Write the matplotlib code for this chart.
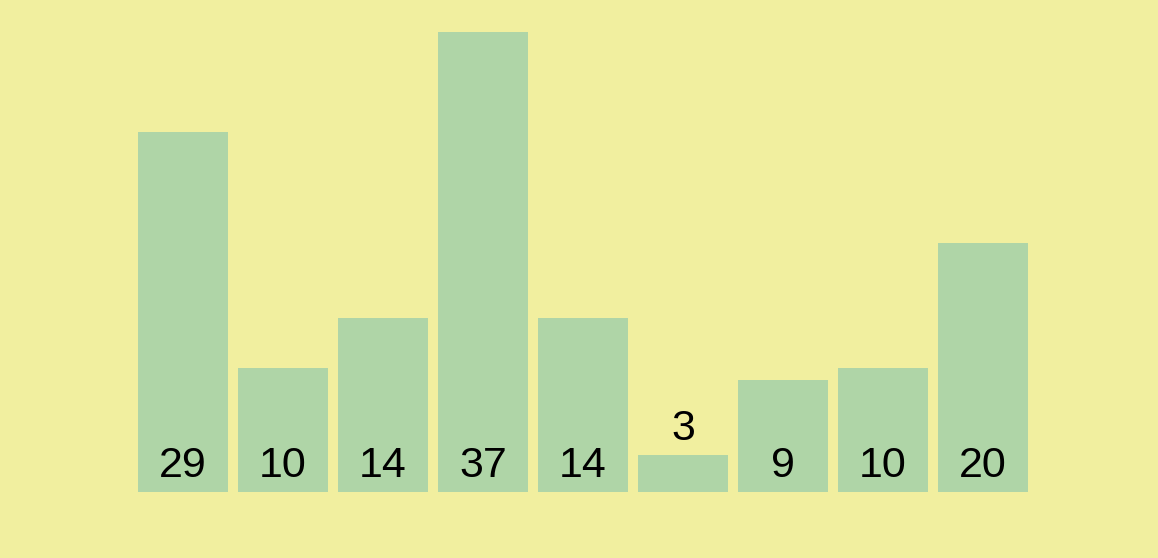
import matplotlib
matplotlib.use("Agg")
import matplotlib.pyplot as plt

values = [29, 10, 14, 37, 14, 3, 9, 10, 20]
labels = [str(v) for v in values]

bg = "#f1ef9f"
bar_color = "#afd5a7"

fig = plt.figure(figsize=(11.58, 5.58), dpi=100, facecolor=bg)
ax = fig.add_axes([0, 0, 1, 1])
ax.set_facecolor(bg)

x = list(range(len(values)))
ax.bar(x, values, width=0.9, color=bar_color, linewidth=0)

# pixel mapping: bar centres at 183 + 100*i, baseline at y=492, 12.43 px per unit
ax.set_xlim(-1.83, 9.75)
ax.set_ylim(-66 / 12.43, 492 / 12.43)

for i, v in enumerate(values):
    # small bars get the label above them
    y = v + 1.2 if v < 5 else 1.2
    ax.text(i, y, labels[i], ha="center", va="baseline",
            fontsize=31, family=["Liberation Sans", "DejaVu Sans"], color="black")

ax.axis("off")
fig.savefig("out.png", dpi=100, facecolor=bg)
